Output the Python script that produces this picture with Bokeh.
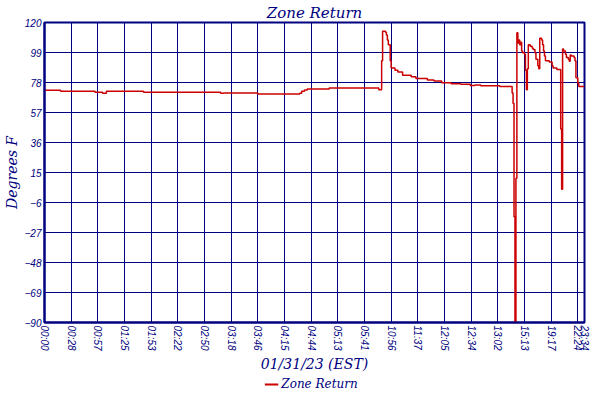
from bokeh.plotting import figure
from bokeh.layouts import column
from bokeh.models import FixedTicker, Range1d, Legend, LegendItem
from bokeh.embed import file_html
from bokeh.resources import INLINE

# ---- data (sample index of each logged change, temperature °F) ----
sample = [0, 17, 53, 61, 65, 104, 185, 188, 224, 268, 270, 273, 276, 299,
          351, 354, 355, 358, 359, 360, 361, 363, 364, 368, 371, 376, 385,
          390, 402, 409, 417, 427, 437, 447, 452, 458, 478,
          491, 492, 493, 494, 495, 496, 497, 498, 499, 500, 501, 502, 504,
          505, 506, 507, 508, 510, 512, 513, 515, 516, 518, 519, 520, 522,
          523, 524, 525, 526, 530, 533, 534, 538, 542, 543, 544, 545, 547,
          548, 550, 551, 552, 553, 556, 557, 558, 560, 561, 567]
temp = [72.5, 71.8, 71.2, 70.5, 71.8, 71.2, 70.5, 70.7, 70.0, 70.5, 71.8, 72.7, 73.4, 74.1,
        73.0, 93.2, 113.9, 113.2, 111.2, 107.8, 104.5, 93.2, 88.1, 86.5, 85.4, 83.1, 82.0,
        80.8, 79.7, 79.0, 77.9, 77.2, 76.8, 75.9, 76.3, 75.7, 75.2,
        70.7, 63.3, -15.9, -92.0, 11.0, 112.8, 105.6, 107.8, 104.5, 106.1, 100.0, 98.9, 97.7,
        86.5, 73.0, 87.6, 104.5, 103.3, 102.2, 101.1, 98.9, 94.3, 89.8, 87.6, 109.0, 107.8,
        104.5, 100.0, 96.6, 93.2, 92.4, 89.8, 88.1, 87.1, 45.5, 3.2, 101.5, 100.0, 97.7,
        95.5, 94.3, 92.8, 97.3, 96.6, 95.5, 93.2, 81.3, 77.5, 75.2, 75.2]

x_ticks = [0, 28, 56, 84, 112, 140, 168, 196, 224, 252, 280, 308, 336, 364,
           392, 420, 448, 476, 504, 532, 560, 567]
x_labels = ["00:00", "00:28", "00:57", "01:25", "01:53", "02:22", "02:50", "03:18",
            "03:46", "04:15", "04:44", "05:13", "05:41", "10:56", "11:37", "12:05",
            "12:34", "13:02", "15:13", "19:17", "22:24", "23:34"]
y_ticks = [-90, -69, -48, -27, -6, 15, 36, 57, 78, 99, 120]
series_name = "Zone Return"

NAVY = "#000080"
RED = "#cc0000"
SERIF = "DejaVu Serif"
SANS = "Liberation Sans"

p = figure(frame_width=540, frame_height=300, output_backend="svg", toolbar_location=None,
           x_range=Range1d(0, 567), y_range=Range1d(-90, 120), title="Zone Return")
p.min_border_left = 0
p.min_border_right = 6
p.min_border_top = 0
p.min_border_bottom = 0
p.background_fill_color = "white"
p.border_fill_color = "white"
p.outline_line_color = NAVY
p.outline_line_width = 2

r = p.step(sample, temp, mode="after", line_color=RED, line_width=1.5)

p.title.align = "center"
p.title.text_font = SERIF
p.title.text_font_style = "italic"
p.title.text_font_size = "15px"
p.title.text_color = NAVY
p.title.standoff = 2

xa = p.xaxis[0]
xa.ticker = FixedTicker(ticks=x_ticks)
xa.major_label_overrides = {t: l for t, l in zip(x_ticks, x_labels)}
xa.major_label_orientation = "vertical"
xa.axis_label = "01/31/23 (EST)"

ya = p.yaxis[0]
ya.ticker = FixedTicker(ticks=y_ticks)
ya.axis_label = "Degrees F"

for ax in (xa, ya):
    ax.axis_line_color = NAVY
    ax.axis_line_width = 2
    ax.major_tick_out = 0
    ax.major_tick_in = 0
    ax.minor_tick_out = 0
    ax.minor_tick_in = 0
    ax.major_label_text_font = SANS
    ax.major_label_text_font_style = "italic"
    ax.major_label_text_font_size = "10px"
    ax.major_label_text_color = NAVY
    ax.major_label_standoff = 3
    ax.axis_label_text_font = SERIF
    ax.axis_label_text_font_style = "italic"
    ax.axis_label_text_font_size = "14px"
    ax.axis_label_text_color = NAVY
    ax.axis_label_standoff = 2

for g in (p.xgrid[0], p.ygrid[0]):
    g.grid_line_color = NAVY
    g.grid_line_width = 1
    g.grid_line_alpha = 1.0
p.xgrid[0].ticker = FixedTicker(ticks=x_ticks)
p.ygrid[0].ticker = FixedTicker(ticks=y_ticks)

# ---- legend strip below the chart ----
lg = figure(width=584, height=20, output_backend="svg", toolbar_location=None,
            x_range=Range1d(0, 1), y_range=Range1d(0, 1))
lg.min_border = 0
lg.axis.visible = False
lg.grid.visible = False
lg.outline_line_color = None
lg.background_fill_color = "white"
lg.border_fill_color = "white"
# a single-point line draws nothing itself; it only supplies the legend swatch
swatch = lg.line(x=[0.5], y=[0.5], line_color=RED, line_width=2)
legend = Legend(items=[LegendItem(label=series_name, renderers=[swatch])],
                orientation="horizontal", location="center")
legend.border_line_color = None
legend.background_fill_alpha = 0
legend.label_text_font = SERIF
legend.label_text_font_style = "italic"
legend.label_text_font_size = "12px"
legend.label_text_color = NAVY
legend.glyph_width = 14
legend.glyph_height = 12
legend.label_height = 12
legend.padding = 1
legend.margin = 0
legend.spacing = 0
legend.label_standoff = 3
lg.add_layout(legend, "center")

open("out.html", "w").write(file_html(column(p, lg, spacing=0), INLINE))
